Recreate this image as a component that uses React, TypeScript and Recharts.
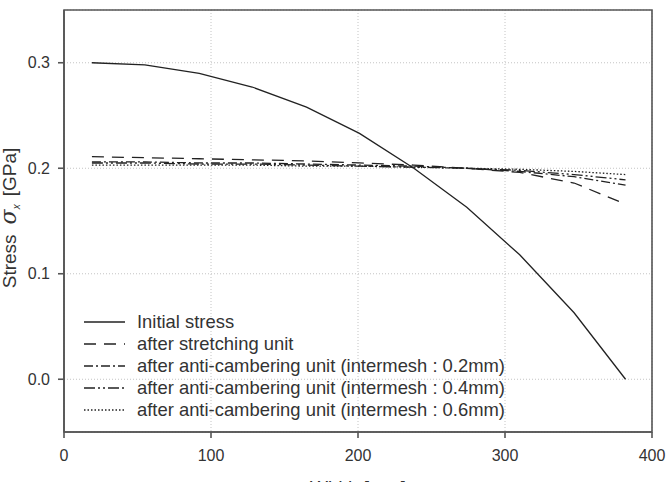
import React from 'react';
import { LineChart, Line, XAxis, YAxis, CartesianGrid, Legend, Label, ReferenceArea } from 'recharts';

const widths = [19, 55, 92, 128, 165, 201, 238, 274, 310, 347, 382];
const initialStress = [0.300, 0.298, 0.290, 0.277, 0.258, 0.233, 0.200, 0.163, 0.118, 0.063, 0.000];
const afterStretching = [0.211, 0.210, 0.209, 0.208, 0.207, 0.205, 0.203, 0.200, 0.196, 0.186, 0.166];
const antiCamber02 = [0.206, 0.206, 0.205, 0.205, 0.204, 0.203, 0.202, 0.200, 0.197, 0.192, 0.184];
const antiCamber04 = [0.205, 0.205, 0.204, 0.204, 0.203, 0.202, 0.201, 0.200, 0.198, 0.194, 0.189];
const antiCamber06 = [0.203, 0.203, 0.203, 0.203, 0.202, 0.202, 0.201, 0.200, 0.199, 0.197, 0.194];

const xTicks = [0, 100, 200, 300, 400];
const yTicks = [0, 0.1, 0.2, 0.3];
const xDomain = [0, 400];
const yDomain = [-0.05, 0.35];

const series = [
  { key: 'initial', name: 'Initial stress', values: initialStress, dash: undefined as string | undefined },
  { key: 'stretch', name: 'after stretching unit', values: afterStretching, dash: '12 8' },
  { key: 'a02', name: 'after anti-cambering unit (intermesh : 0.2mm)', values: antiCamber02, dash: '9 3 2 3' },
  { key: 'a04', name: 'after anti-cambering unit (intermesh : 0.4mm)', values: antiCamber04, dash: '11 3 2 3 2 3' },
  { key: 'a06', name: 'after anti-cambering unit (intermesh : 0.6mm)', values: antiCamber06, dash: '1.5 2' },
];

const data = widths.map((w, i) => {
  const row: Record<string, number> = { w };
  series.forEach((s) => { row[s.key] = s.values[i]; });
  return row;
});

const LINE = '#222';
const AXIS = '#555';
const TXT = '#333';
const FONT = '"Liberation Sans", Arial, sans-serif';

const LegendContent = () => (
  <div style={{ fontFamily: FONT, fontSize: 18.4, color: TXT, lineHeight: '22px' }}>
    {series.map((s) => (
      <div key={s.key} style={{ display: 'flex', alignItems: 'center', height: 22, whiteSpace: 'nowrap' }}>
        <svg width={42} height={10} style={{ marginRight: 11 }}>
          <line x1={0} y1={5} x2={41} y2={5} stroke={LINE} strokeWidth={1.3} strokeDasharray={s.dash} />
        </svg>
        <span>{s.name}</span>
      </div>
    ))}
  </div>
);

const YLabel = () => (
  <text transform="translate(16,218) rotate(-90)" textAnchor="middle" fontFamily={FONT} fontSize={19} fill={TXT}>
    <tspan>Stress</tspan>
    <tspan dx={10} fontStyle="italic" fontFamily='"DejaVu Serif", serif' fontSize={22}>σ</tspan>
    <tspan fontStyle="italic" fontSize={10} dy={4}>x</tspan>
    <tspan dx={8} dy={-4}>[GPa]</tspan>
  </text>
);

const XLabel = (props: any) => {
  const vb = props.viewBox || { x: 64, y: 432, width: 588, height: 50 };
  return (
    <text x={vb.x + vb.width / 2} y={vb.y + vb.height + 12} textAnchor="middle" fontFamily={FONT} fontSize={19} fill={TXT}>
      Width [mm]
    </text>
  );
};

export default function App() {
  return (
    <div style={{ position: 'absolute', left: 0, top: 0, width: 669, height: 482, background: '#fff' }}>
      <LineChart width={669} height={482} data={data} margin={{ top: 10, right: 17, bottom: 0, left: 0 }}>
        <CartesianGrid stroke="#c4c4c4" strokeDasharray="1 2" />
        <ReferenceArea x1={xDomain[0]} x2={xDomain[1]} y1={yDomain[0]} y2={yDomain[1]} fill="none" stroke={AXIS} strokeWidth={1.6} ifOverflow="visible" />
        <XAxis
          dataKey="w"
          type="number"
          domain={xDomain}
          ticks={xTicks}
          height={50}
          tickSize={6}
          stroke={AXIS}
          strokeWidth={1.6}
          tick={{ fill: TXT, fontSize: 16, fontFamily: FONT }}
          tickMargin={12}
          allowDataOverflow
        >
          <Label content={<XLabel />} position="bottom" />
        </XAxis>
        <YAxis
          type="number"
          domain={yDomain}
          ticks={yTicks}
          width={64}
          tickSize={6}
          stroke={AXIS}
          strokeWidth={1.6}
          tick={{ fill: TXT, fontSize: 16, fontFamily: FONT }}
          tickFormatter={(v: number) => v.toFixed(1)}
          tickMargin={8}
          allowDataOverflow
          label={<YLabel />}
        />
        {series.map((s) => (
          <Line
            key={s.key}
            dataKey={s.key}
            name={s.name}
            stroke={LINE}
            strokeWidth={1.3}
            strokeDasharray={s.dash}
            dot={false}
            isAnimationActive={false}
          />
        ))}
        <Legend
          layout="vertical"
          align="center"
          verticalAlign="middle"
          content={<LegendContent />}
          wrapperStyle={{ position: 'absolute', left: 84, top: 311, width: 540 }}
        />
      </LineChart>
    </div>
  );
}
